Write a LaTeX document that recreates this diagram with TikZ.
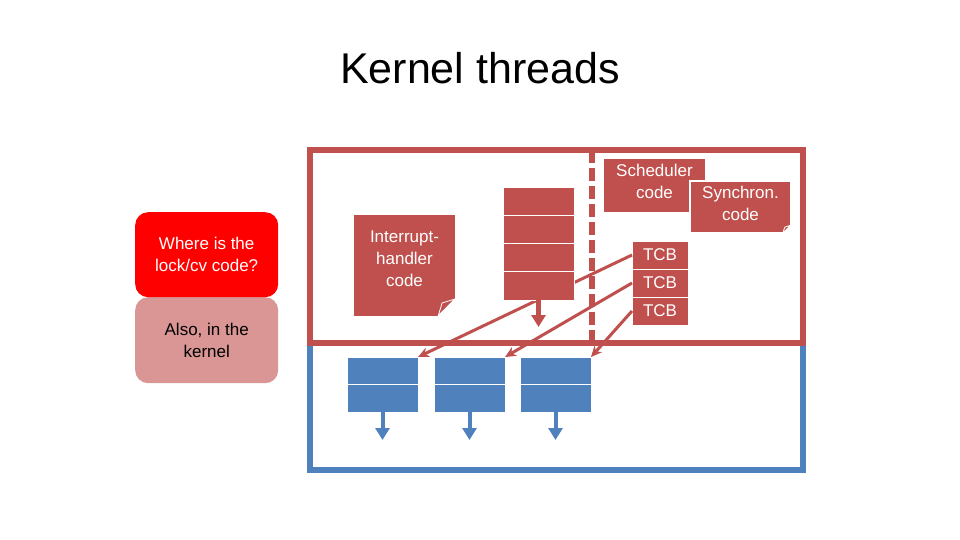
\documentclass[tikz,border=0pt]{standalone}
\usepackage{fontspec}
\setmainfont{Liberation Sans}
\usetikzlibrary{positioning, arrows.meta}
\usetikzlibrary{calc}

\definecolor{kred}{HTML}{C0504D}
\definecolor{kblue}{HTML}{4F81BD}
\definecolor{kpink}{HTML}{D99694}
\definecolor{qred}{HTML}{FF0000}

\begin{document}
\begin{tikzpicture}[
          x=1pt, y=-1pt,
          node distance=0pt,
          txt/.style={font=\fontsize{17}{22}\selectfont, align=center},
          codebox/.style={rectangle, fill=kred, inner sep=0pt, outer sep=0pt},
          cell/.style={rectangle, fill=kred, draw=white, line width=1pt, inner sep=0pt, outer sep=0pt, minimum width=71pt, minimum height=28.25pt},
          tcb/.style={cell, minimum width=56pt, minimum height=28pt, text=white, txt},
          qcell/.style={cell, fill=kblue, minimum height=27.5pt},
          callout/.style={rectangle, rounded corners=13pt, minimum width=143pt, minimum height=85pt, inner sep=0pt, txt},
          fold/.style={fill=kred, draw=white, line width=0.8pt},
          link/.style={-{Stealth[length=11pt, width=10pt]}, kred, line width=3pt},
          drop/.style={-{Triangle[length=12pt, width=14pt]}, line width=5pt}
        ]
          \useasboundingbox (0,0) rectangle (960,540);

          % Title
          \node[font=\fontsize{43}{50}\selectfont] (title) at (480,68) {Kernel threads};

          % Kernel and user frames
          \draw[kblue, line width=6pt] (310,343) rectangle (803,470);
          \draw[kred, line width=6pt] (310,150) rectangle (803,343);
          \draw[kred, line width=6pt, dash pattern=on 13pt off 5pt] (592,150) -- (592,343);

          % Question and answer
          \node[callout, fill=kpink, minimum height=86pt, anchor=north west] (also) at (135,297) {Also, in the\\kernel};
          \node[callout, fill=qred, text=white, anchor=north west] (where) at (135,212) {Where is the\\lock/cv code?};

          % Interrupt handler note
          \node[codebox, minimum width=101pt, minimum height=101pt, anchor=north west] (ih) at (354,215) {};
          \fill[white] ($(ih.south east)+(-17,0)$) -- (ih.south east) -- ($(ih.south east)+(0,-17)$) -- cycle;
          \filldraw[fold] ($(ih.south east)+(0,-17)$) -- ($(ih.south east)+(-17,0)$) .. controls ($(ih.south east)+(-14,-9)$) .. ($(ih.south east)+(-13,-13)$) -- cycle;
          \node[txt, text=white] (ihtext) at ($(ih.center)+(0,-7)$) {Interrupt-\\handler\\code};

          % Scheduler and synchronization code
          \node[codebox, minimum width=101pt, minimum height=53pt, anchor=north west] (sched) at (604,159) {};
          \node[txt, text=white] (schedtext) at ($(sched.center)+(0,-4)$) {Scheduler\\code};
          \node[codebox, draw=white, line width=1.5pt, minimum width=101pt, minimum height=52pt, anchor=north west] (sync) at (690,181) {};
          \fill[white] ($(sync.south east)+(-8,0)$) -- (sync.south east) -- ($(sync.south east)+(0,-8)$) -- cycle;
          \filldraw[fold] ($(sync.south east)+(0,-8)$) -- ($(sync.south east)+(-8,0)$) .. controls ($(sync.south east)+(-7,-4)$) .. ($(sync.south east)+(-6,-6)$) -- cycle;
          \node[txt, text=white] (synctext) at ($(sync.center)+(0,-4)$) {Synchron.\\code};

          % Thread control blocks
          \node[tcb, anchor=north west] (tcb1) at (632,241) {TCB};
          \node[tcb, below=of tcb1] (tcb2) {TCB};
          \node[tcb, below=of tcb2] (tcb3) {TCB};

          % User-level stacks
          \node[qcell, anchor=north west] (q1a) at (347,357) {};
          \node[qcell, below=of q1a] (q1b) {};
          \node[qcell, anchor=north west] (q2a) at (434,357) {};
          \node[qcell, below=of q2a] (q2b) {};
          \node[qcell, anchor=north west] (q3a) at (520,357) {};
          \node[qcell, below=of q3a] (q3b) {};
          \coordinate (q1end) at ($(q1b.south)+(0,28)$);
          \coordinate (q2end) at ($(q2b.south)+(0,28)$);
          \coordinate (q3end) at ($(q3b.south)+(0,28)$);
          \draw[drop, kblue, line width=4pt] (q1b.south) -- (q1end);
          \draw[drop, kblue, line width=4pt] (q2b.south) -- (q2end);
          \draw[drop, kblue, line width=4pt] (q3b.south) -- (q3end);

          % Arrows
          \draw[link] (tcb1.west) -- (q1a.north east);
          \draw[link] (tcb2.west) -- (q2a.north east);
          \draw[link] (tcb3.west) -- (q3a.north east);

          % Kernel stack
          \node[cell, anchor=north west] (st1) at (503,187) {};
          \node[cell, below=of st1] (st2) {};
          \node[cell, below=of st2] (st3) {};
          \node[cell, below=of st3] (st4) {};
          \coordinate (stend) at ($(st4.south)+(0,27)$);
          \draw[drop, kred] (st4.south) -- (stend);
      \end{tikzpicture}
\end{document}
